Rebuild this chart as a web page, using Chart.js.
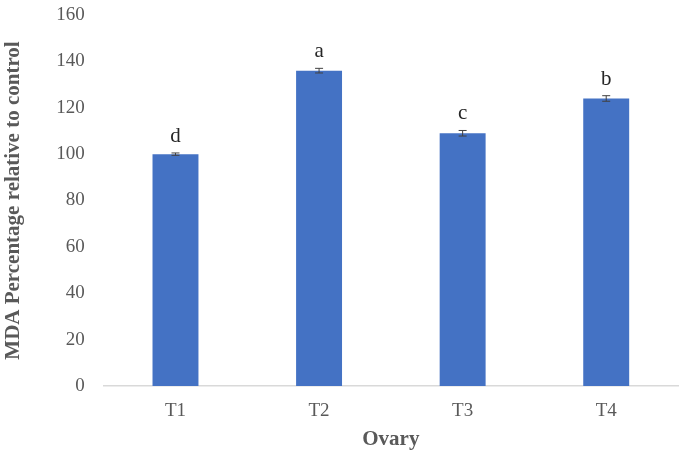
<!DOCTYPE html>
<html>
<head>
<meta charset="utf-8">
<script src="https://cdn.jsdelivr.net/npm/chart.js@4"></script>
<style>
  body { margin: 0; background: #fff; }
  #wrap { width: 685px; height: 453px; }
</style>
</head>
<body>
<div id="wrap"><canvas id="mdaChart"></canvas></div>
<script>
// Datos del gráfico
const categories = ['T1', 'T2', 'T3', 'T4'];
const mdaValues = [100, 136, 109, 124];
const mdaErrors = [0.5, 1, 1.2, 1.2];
const groupLetters = ['d', 'a', 'c', 'b'];
const yTicks = [0, 20, 40, 60, 80, 100, 120, 140, 160];

const serif = '"Liberation Serif", "Times New Roman", serif';
const textGrey = '#595959';

// Barras de error y letras de significancia
const errorBarPlugin = {
    id: 'errorBars',
    afterDatasetsDraw(chart) {
        const ctx = chart.ctx;
        const y = chart.scales.y;
        const meta = chart.getDatasetMeta(0);
        ctx.save();
        meta.data.forEach((bar, i) => {
            const v = mdaValues[i];
            const e = mdaErrors[i];
            const top = y.getPixelForValue(v + e);
            const bottom = y.getPixelForValue(v - e);
            const x = bar.x;
            ctx.strokeStyle = '#404040';
            ctx.lineWidth = 1;
            ctx.beginPath();
            ctx.moveTo(x, top); ctx.lineTo(x, bottom);
            ctx.moveTo(x - 4, top); ctx.lineTo(x + 4, top);
            ctx.moveTo(x - 4, bottom); ctx.lineTo(x + 4, bottom);
            ctx.stroke();

            ctx.fillStyle = '#262626';
            ctx.font = '21px ' + serif;
            ctx.textAlign = 'center';
            ctx.textBaseline = 'bottom';
            ctx.fillText(groupLetters[i], x, top - 6);
        });
        ctx.restore();
    }
};

new Chart(document.getElementById('mdaChart'), {
    type: 'bar',
    data: {
        labels: categories,
        datasets: [{
            data: mdaValues,
            backgroundColor: '#4472C4',
            borderWidth: 0,
            barPercentage: 0.64,
            categoryPercentage: 0.5
        }]
    },
    options: {
        responsive: true,
        maintainAspectRatio: false,
        animation: false,
        layout: {
            padding: { top: 15, right: 7, left: 0, bottom: 0 }
        },
        plugins: {
            legend: { display: false },
            tooltip: { enabled: false }
        },
        scales: {
            x: {
                grid: { display: false, drawTicks: false },
                border: { display: true, color: '#d9d9d9', width: 1.5 },
                ticks: {
                    color: textGrey,
                    font: { family: serif, size: 19 },
                    padding: 14
                },
                title: {
                    display: true,
                    text: 'Ovary',
                    color: textGrey,
                    font: { family: serif, size: 21, weight: 'bold' },
                    padding: { top: -10, bottom: 1 }
                }
            },
            y: {
                min: 0,
                max: 160,
                afterBuildTicks: axis => {
                    axis.ticks = yTicks.map(v => ({ value: v }));
                },
                afterFit: axis => {
                    axis.paddingTop = 0;
                },
                grid: { display: false, drawTicks: false },
                border: { display: false },
                ticks: {
                    color: textGrey,
                    font: { family: serif, size: 19 },
                    padding: 19
                },
                title: {
                    display: true,
                    text: 'MDA Percentage relative to control',
                    color: textGrey,
                    font: { family: serif, size: 21, weight: 'bold' },
                    padding: { top: 1, bottom: 11 }
                }
            }
        }
    },
    plugins: [errorBarPlugin]
});
</script>
</body>
</html>
